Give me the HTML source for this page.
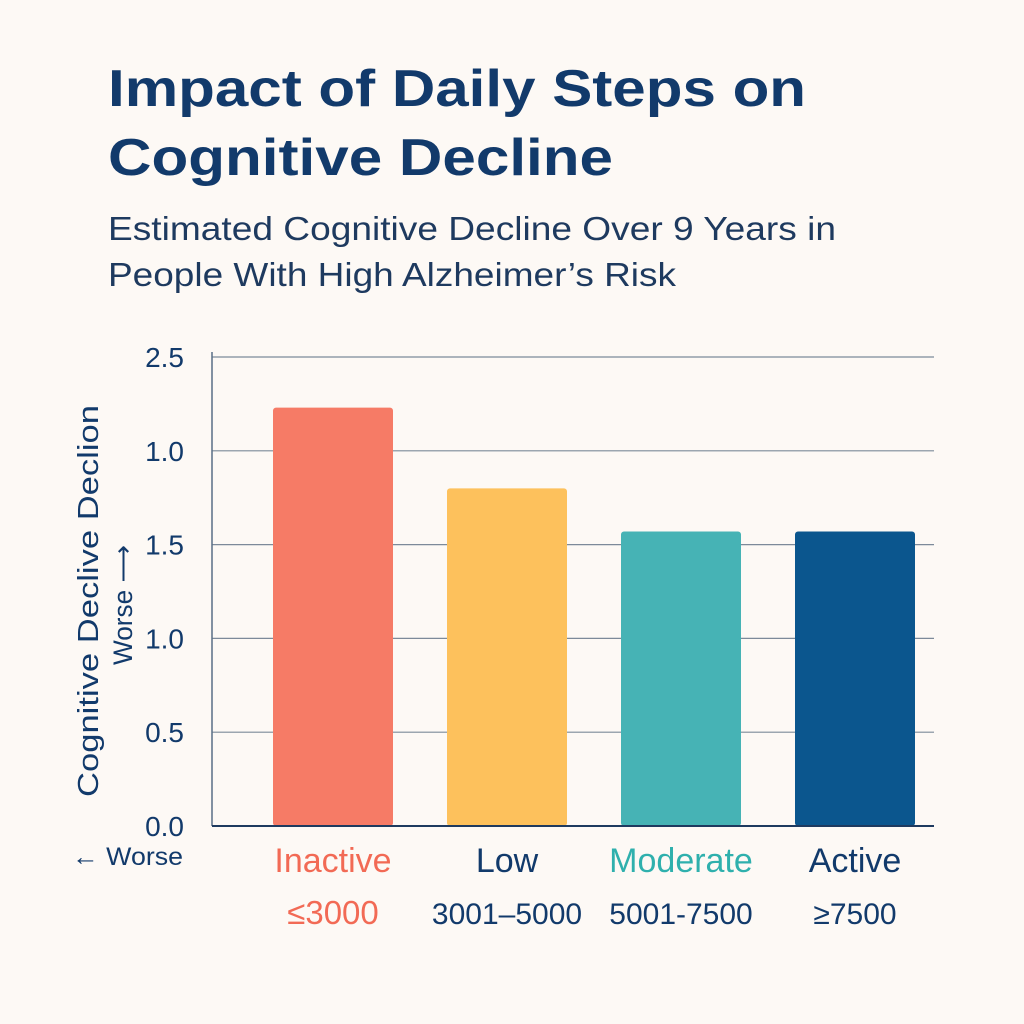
<!DOCTYPE html>
<html><head><meta charset="utf-8"><style>
body{margin:0;background:#fdf9f5;}
svg{display:block;font-family:"Liberation Sans",sans-serif;}
</style></head><body>
<svg width="1024" height="1024" viewBox="0 0 1024 1024">
<rect width="1024" height="1024" fill="#fdf9f5"/>
<text x="108" y="106" font-size="52" font-weight="bold" fill="#123a6b" textLength="698" lengthAdjust="spacingAndGlyphs">Impact of Daily Steps on</text>
<text x="108" y="175" font-size="52" font-weight="bold" fill="#123a6b" textLength="505" lengthAdjust="spacingAndGlyphs">Cognitive Decline</text>
<text x="108" y="240" font-size="33" fill="#1e3a5f" textLength="728" lengthAdjust="spacingAndGlyphs">Estimated Cognitive Decline Over 9 Years in</text>
<text x="108" y="286" font-size="33" fill="#1e3a5f" textLength="568" lengthAdjust="spacingAndGlyphs">People With High Alzheimer’s Risk</text>
<g id="grid"></g>
<g id="bars"></g>
<g id="labels"></g>
<line x1="212" y1="352" x2="212" y2="826" stroke="#5a6f86" stroke-width="1.5"/>
<line x1="212" y1="826" x2="934" y2="826" stroke="#1e3a5f" stroke-width="2"/>
<text transform="translate(98,601) rotate(-90)" text-anchor="middle" font-size="29" fill="#123a6b" textLength="392" lengthAdjust="spacingAndGlyphs">Cognitive Declive Declion</text>
<text transform="translate(132,605) rotate(-90)" text-anchor="middle" font-size="27" fill="#123a6b" textLength="120" lengthAdjust="spacingAndGlyphs">Worse ⟶</text>
<text x="72" y="865" font-size="25" fill="#123a6b" textLength="111" lengthAdjust="spacingAndGlyphs">← Worse</text>
</svg>
<script>
const categories=["Inactive","Low","Moderate","Active"];
const ranges=["≤3000","3001–5000","5001-7500","≥7500"];
const values=[2.23,1.80,1.57,1.57];
const tickValues=[0,0.5,1,1.5,2,2.5];
const tickLabels=["0.0","0.5","1.0","1.5","1.0","2.5"];
const barColors=["#f67b66","#fdc15c","#46b3b5","#0b568e"];
const labelColors=["#f26a55","#123a6b","#2fb0ad","#123a6b"];
const rangeColors=["#f26a55","#123a6b","#123a6b","#123a6b"];
const NS="http://www.w3.org/2000/svg";
const y0=826,yTop=357,vMax=2.5;
function y(v){return y0-(v/vMax)*(y0-yTop);}
function xc(i){return 333+i*174;}
const bw=120;
const grid=document.getElementById('grid'),bars=document.getElementById('bars'),labels=document.getElementById('labels');
tickValues.forEach((t,i)=>{
 if(t>0){const l=document.createElementNS(NS,'line');
 l.setAttribute('x1',212);l.setAttribute('x2',934);l.setAttribute('y1',y(t));l.setAttribute('y2',y(t));
 l.setAttribute('stroke','#7d8a9a');l.setAttribute('stroke-width','1.2');
 
 
 grid.appendChild(l);}
 const tx=document.createElementNS(NS,'text');
 tx.setAttribute('x',184);tx.setAttribute('y',y(t)+10);tx.setAttribute('text-anchor','end');
 tx.setAttribute('font-size','28');tx.setAttribute('fill','#123a6b');tx.textContent=tickLabels[i];
 
 
 grid.appendChild(tx);
});
values.forEach((v,i)=>{
 const r=document.createElementNS(NS,'rect');
 r.setAttribute('x',xc(i)-bw/2);r.setAttribute('y',y(v));r.setAttribute('width',bw);r.setAttribute('height',y0-y(v));
 r.setAttribute('rx',3);r.setAttribute('fill',barColors[i]);
 
 
 bars.appendChild(r);
 const a=document.createElementNS(NS,'text');
 a.setAttribute('x',xc(i));a.setAttribute('y',872);a.setAttribute('text-anchor','middle');
 a.setAttribute('font-size','34');a.setAttribute('fill',labelColors[i]);a.textContent=categories[i];
 
 
 labels.appendChild(a);
 const b=document.createElementNS(NS,'text');
 b.setAttribute('x',xc(i));b.setAttribute('y',924);b.setAttribute('text-anchor','middle');
 b.setAttribute('font-size',i==0?'33':'30');b.setAttribute('fill',rangeColors[i]);b.textContent=ranges[i];
 
 
 labels.appendChild(b);
});
</script>
</body></html>
